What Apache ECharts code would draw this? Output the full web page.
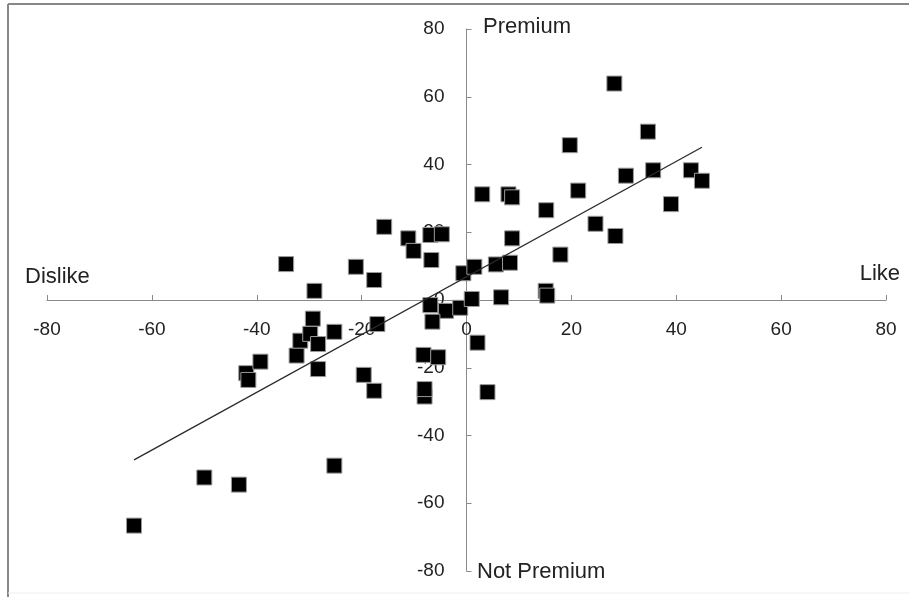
<!DOCTYPE html>
<html>
<head>
<meta charset="utf-8">
<script src="https://cdn.jsdelivr.net/npm/echarts@6/dist/echarts.min.js"></script>
<style>
html,body{margin:0;padding:0;background:#fff;}
#chart{width:909px;height:597px;}
</style>
</head>
<body>
<div id="chart"></div>
<script>
// Liking (x) vs premium perception (y)
var likeValues = [-63.4, -50, -43.4, -25.2, -42, -41.6, -39.3, -32.4, -31.7, -29.8,
  -28.3, -29.3, -25.2, -28.3, -29, -34.4, -21.1, -17.6, -15.7, -11.1,
  -10.1, -6.9, -4.7, -6.7, -17, -19.6, -17.6, -8.2, -5.4, -8,
  -8, 4, 2.1, -6.9, -3.9, -1.2, -6.5, -0.6, 1.5, 1.0,
  5.6, 8.3, 6.6, 15.1, 15.4, 8.7, 17.9, 3.0, 8, 8.7,
  15.2, 21.3, 24.6, 28.4, 19.7, 28.2, 34.6, 30.4, 35.6, 42.8,
  44.9, 39];
var premiumValues = [-66.6, -52.4, -54.5, -48.9, -21.6, -23.6, -18.2, -16.4, -12, -10,
  -13, -5.5, -9.4, -20.4, 2.7, 10.6, 9.8, 5.9, 21.6, 18.2,
  14.5, 19.2, 19.4, 11.8, -7.1, -22.1, -26.8, -16.2, -16.9, -28.5,
  -26.3, -27.2, -12.6, -1.5, -3.2, -2.3, -6.4, 7.9, 9.8, 0.3,
  10.5, 11, 0.8, 2.7, 1.3, 18.2, 13.4, 31.2, 31.2, 30.3,
  26.5, 32.3, 22.5, 18.9, 45.7, 63.9, 49.7, 36.7, 38.3, 38.3,
  35.2, 28.3];
// Linear trendline end points
var trendX = [-63.4, 44.9];
var trendY = [-47.2, 45.1];
var tickValues = [-80, -60, -40, -20, 0, 20, 40, 60, 80];
var xNames = ['Dislike', 'Like'];
var yNames = ['Premium', 'Not Premium'];

var points = likeValues.map(function (v, i) { return [v, premiumValues[i]]; });
var trend = trendX.map(function (v, i) { return [v, trendY[i]]; });

var W = 909, H = 597;
var G = { left: 47, right: 23, top: 29, bottom: 26 };
var gridW = W - G.left - G.right, gridH = H - G.top - G.bottom;
var xMin = tickValues[0], xMax = tickValues[tickValues.length - 1];
// distance from grid edge to the zero line
var xAxisShift = -gridH * (0 - xMin) / (xMax - xMin);
var yAxisShift = -gridW * (0 - xMin) / (xMax - xMin);

var FONT = 'Liberation Sans, Arial, sans-serif';
var chart = echarts.init(document.getElementById('chart'));
function axis(extra) {
  return Object.assign({
    type: 'value',
    min: xMin,
    max: xMax,
    interval: 20,
    splitLine: { show: false },
    axisLine: { onZero: false, lineStyle: { color: '#8a8a8a', width: 1 } },
    axisTick: { show: true, inside: true, length: 5, lineStyle: { color: '#8a8a8a' } },
    axisLabel: { color: '#222', fontSize: 19, fontFamily: FONT, margin: 20 }
  }, extra);
}
chart.setOption({
  animation: false,
  backgroundColor: '#fff',
  grid: { left: G.left, right: G.right, top: G.top, bottom: G.bottom, containLabel: false },
  xAxis: axis({ position: 'bottom', offset: xAxisShift }),
  yAxis: axis({ position: 'left', offset: yAxisShift,
    axisLabel: { color: '#222', fontSize: 19, fontFamily: FONT, margin: 22 } }),
  graphic: [
    { type: 'line', shape: { x1: 8, y1: 4, x2: 909, y2: 4 }, style: { stroke: '#888', lineWidth: 2 } },
    { type: 'line', shape: { x1: 8, y1: 4, x2: 8, y2: 597 }, style: { stroke: '#888', lineWidth: 2 } },
    { type: 'line', shape: { x1: 8, y1: 593, x2: 909, y2: 593 }, style: { stroke: '#eee', lineWidth: 1 } },
    { type: 'text', x: 483, y: 27, style: { text: yNames[0], font: '22px ' + FONT, fill: '#222', textVerticalAlign: 'middle' } },
    { type: 'text', x: 477, y: 572, style: { text: yNames[1], font: '22px ' + FONT, fill: '#222', textVerticalAlign: 'middle' } },
    { type: 'text', x: 25, y: 277, style: { text: xNames[0], font: '22px ' + FONT, fill: '#222', textVerticalAlign: 'middle' } },
    { type: 'text', x: 900, y: 274, style: { text: xNames[1], font: '22px ' + FONT, fill: '#222', textAlign: 'right', textVerticalAlign: 'middle' } }
  ],
  series: [
    {
      type: 'scatter',
      data: points,
      symbol: 'rect',
      symbolSize: 15,
      itemStyle: { color: '#000', borderColor: '#9a9a9a', borderWidth: 1, opacity: 1 },
      z: 3
    },
    {
      type: 'line',
      data: trend,
      showSymbol: false,
      symbol: 'none',
      lineStyle: { color: '#2a2a2a', width: 1.3 },
      z: 4
    }
  ]
});
</script>
</body>
</html>
